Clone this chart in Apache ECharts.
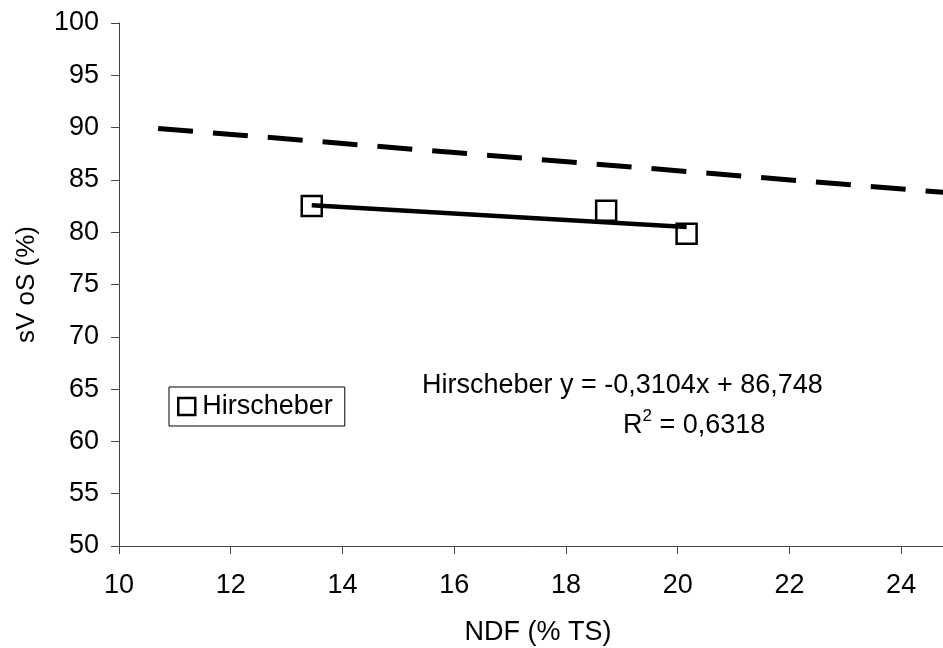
<!DOCTYPE html>
<html>
<head>
<meta charset="utf-8">
<script src="https://cdn.jsdelivr.net/npm/echarts@6/dist/echarts.min.js"></script>
<style>
  html, body { margin: 0; padding: 0; background: #fff; }
  #chart { width: 943px; height: 648px; }
</style>
</head>
<body>
<div id="chart"></div>
<script>
// Measured samples: NDF (% TS) vs. sV oS (%)
const seriesName = 'Hirscheber';
const ndf = [13.45, 18.72, 20.16];
const svos = [82.5, 82.05, 79.85];

// Linear trend stated in the annotation
const trendSlope = -0.3104;
const trendIntercept = 86.748;
const rSquared = '0,6318';

// Dashed reference line endpoints
const refX = [10.7, 25];
const refY = [89.92, 83.7];

const FONT = '"Liberation Sans", Arial, sans-serif';

const xMinData = Math.min(...ndf);
const xMaxData = Math.max(...ndf);
const trendData = [
  [xMinData, trendSlope * xMinData + trendIntercept],
  [xMaxData, trendSlope * xMaxData + trendIntercept]
];
const refData = refX.map((x, i) => [x, refY[i]]);
const pointData = ndf.map((x, i) => [x, svos[i]]);

const fmt = v => String(v).replace('.', ',');

const chart = echarts.init(document.getElementById('chart'), null, { renderer: 'canvas' });
chart.setOption({
  animation: false,
  backgroundColor: '#fff',
  textStyle: { fontFamily: FONT, color: '#000' },
  // plot area runs a little past the right edge of the page
  grid: { left: 119, top: 23, width: 838, height: 523, containLabel: false, outerBoundsMode: 'none' },
  xAxis: {
    type: 'value',
    min: 10, max: 25, interval: 2,
    name: 'NDF (% TS)',
    nameLocation: 'middle',
    nameGap: 73,
    nameTextStyle: { fontSize: 27, color: '#000', fontFamily: FONT },
    axisLine: { show: true, onZero: false, lineStyle: { color: '#444', width: 1 } },
    axisTick: { show: true, inside: false, length: 8, lineStyle: { color: '#444' } },
    axisLabel: {
      fontSize: 27, color: '#000', fontFamily: FONT, margin: 26,
      formatter: v => (v % 2 === 0 ? fmt(v) : '')
    },
    splitLine: { show: false }
  },
  yAxis: {
    type: 'value',
    min: 50, max: 100, interval: 5,
    name: 'sV oS (%)',
    nameLocation: 'middle',
    nameGap: 79,
    nameRotate: 90,
    nameTextStyle: { fontSize: 26, color: '#000', fontFamily: FONT },
    axisLine: { show: true, onZero: false, lineStyle: { color: '#444', width: 1 } },
    axisTick: { show: true, inside: false, length: 8, lineStyle: { color: '#444' } },
    axisLabel: { fontSize: 27, color: '#000', fontFamily: FONT, margin: 20 },
    splitLine: { show: false }
  },
  legend: {
    data: [seriesName],
    left: 169, top: 387,
    orient: 'vertical',
    backgroundColor: '#fff',
    borderColor: '#000',
    borderWidth: 1,
    borderRadius: 0,
    padding: [6, 12, 6, 8],
    itemWidth: 17, itemHeight: 17,
    icon: 'rect',
    itemStyle: { color: '#fff', borderColor: '#000', borderWidth: 2.5 },
    textStyle: { fontSize: 27, color: '#000', fontFamily: FONT, padding: [0, 0, 0, 2] }
  },
  series: [
    {
      name: seriesName,
      type: 'scatter',
      data: pointData,
      symbol: 'rect',
      symbolSize: 20,
      z: 2,
      itemStyle: { color: '#fff', borderColor: '#000', borderWidth: 2.5, opacity: 1 }
    },
    {
      name: 'trend',
      type: 'line',
      data: trendData,
      showSymbol: false,
      symbol: 'none',
      z: 3,
      lineStyle: { color: '#000', width: 4.5 },
      silent: true
    },
    {
      name: 'reference',
      type: 'line',
      data: refData,
      showSymbol: false,
      symbol: 'none',
      z: 3,
      lineStyle: { color: '#000', width: 5, type: [35, 20], cap: 'butt' },
      silent: true
    }
  ],
  graphic: [
    {
      type: 'text',
      left: 422, top: 372,
      style: {
        text: seriesName + ' y = ' + fmt(trendSlope) + 'x + ' + fmt(trendIntercept),
        font: '27px ' + FONT,
        fill: '#000'
      }
    },
    {
      type: 'text',
      left: 623, top: 408,
      style: {
        text: '{n|R}{s|2}{n| = ' + rSquared + '}',
        fill: '#000',
        rich: {
          n: { fontSize: 27, fontFamily: FONT, lineHeight: 31, verticalAlign: 'bottom' },
          s: { fontSize: 17, fontFamily: FONT, lineHeight: 31, verticalAlign: 'top' }
        }
      }
    }
  ]
});
</script>
</body>
</html>
